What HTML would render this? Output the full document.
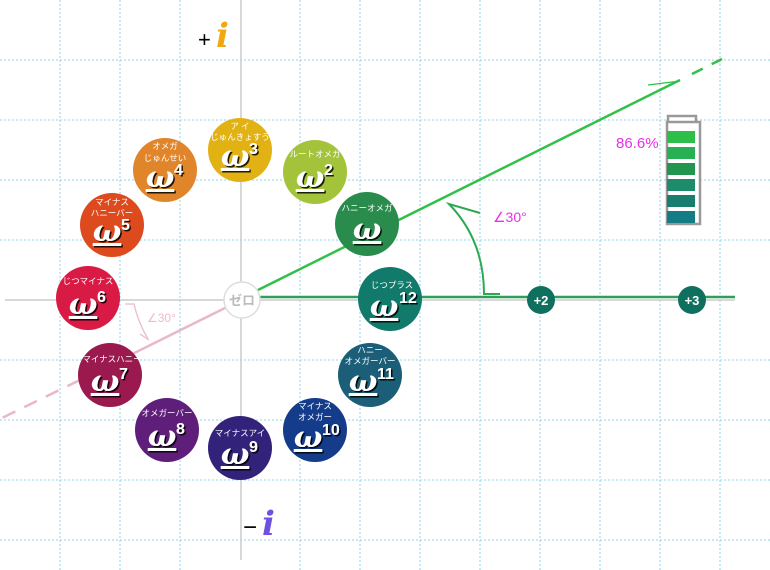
<!DOCTYPE html>
<html><head><meta charset="utf-8"><style>
html,body{margin:0;padding:0;background:#fff;}
svg{display:block;}
.lb{font-family:"Liberation Sans","Noto Sans CJK JP",sans-serif;font-size:8.5px;fill:#fff;text-anchor:middle;}
.om{font-family:"DejaVu Serif","Liberation Serif",serif;font-style:italic;font-weight:bold;font-size:30px;fill:#fff;text-anchor:middle;}
.sp{font-family:"Liberation Sans",sans-serif;font-weight:bold;font-size:16px;fill:#fff;}
</style></head><body>
<svg width="770" height="570" viewBox="0 0 770 570" xmlns="http://www.w3.org/2000/svg">
<defs>
<filter id="sh" x="-20%" y="-20%" width="150%" height="150%"><feDropShadow dx="1.5" dy="1.5" stdDeviation="0" flood-color="#000" flood-opacity="0.85"/></filter>
</defs>
<g stroke="#8fd3e8" stroke-width="1" stroke-dasharray="2,2">
<line x1="60" y1="0" x2="60" y2="570"/><line x1="120" y1="0" x2="120" y2="570"/><line x1="180" y1="0" x2="180" y2="570"/><line x1="300" y1="0" x2="300" y2="570"/><line x1="360" y1="0" x2="360" y2="570"/><line x1="420" y1="0" x2="420" y2="570"/><line x1="480" y1="0" x2="480" y2="570"/><line x1="540" y1="0" x2="540" y2="570"/><line x1="600" y1="0" x2="600" y2="570"/><line x1="660" y1="0" x2="660" y2="570"/><line x1="720" y1="0" x2="720" y2="570"/>
<line x1="0" y1="60" x2="770" y2="60"/><line x1="0" y1="120" x2="770" y2="120"/><line x1="0" y1="180" x2="770" y2="180"/><line x1="0" y1="240" x2="770" y2="240"/><line x1="0" y1="360" x2="770" y2="360"/><line x1="0" y1="420" x2="770" y2="420"/><line x1="0" y1="480" x2="770" y2="480"/><line x1="0" y1="540" x2="770" y2="540"/>
</g>
<line x1="241" y1="0" x2="241" y2="560" stroke="#ccc" stroke-width="1.5"/>
<line x1="5" y1="300" x2="735" y2="300" stroke="#ccc" stroke-width="1.5"/>
<line x1="225" y1="308" x2="80" y2="380" stroke="#e8b8c8" stroke-width="2.5"/>
<line x1="80" y1="380" x2="0" y2="419" stroke="#e8b8c8" stroke-width="2.5" stroke-dasharray="14,10"/>
<path d="M125 304 L134 304 Q138 322 148 339" fill="none" stroke="#ebbcc8" stroke-width="1.3"/>
<path d="M140 334 L149 340" stroke="#ebbcc8" stroke-width="1.3"/>
<text x="147" y="322" font-family="Liberation Sans,sans-serif" font-size="12" fill="#f0b8cc">∠30°</text>
<line x1="258" y1="297" x2="735" y2="297" stroke="#2e9e5a" stroke-width="2.5"/>
<line x1="258" y1="290" x2="680" y2="80" stroke="#33c04a" stroke-width="2.5"/>
<line x1="692" y1="74" x2="722" y2="59" stroke="#33c04a" stroke-width="2.5" stroke-dasharray="12,10"/>
<path d="M680 81 L648 85" stroke="#33c04a" stroke-width="1.3"/>
<path d="M500 294 L484 294 Q484 240 449 204 L480 213" fill="none" stroke="#2ea854" stroke-width="2"/>
<text x="493" y="222" font-family="Liberation Sans,sans-serif" font-size="14" fill="#e830e8">∠30°</text>
<rect x="668" y="116" width="28" height="7" fill="#fff" stroke="#999" stroke-width="2.5"/>
<rect x="667" y="122" width="33" height="102" fill="#fff" stroke="#999" stroke-width="2.5"/>
<rect x="667" y="131" width="28" height="12" fill="#2dbf4a"/>
<rect x="667" y="147" width="28" height="12" fill="#28b055"/>
<rect x="667" y="163" width="28" height="12" fill="#22954f"/>
<rect x="667" y="179" width="28" height="12" fill="#1e8c6a"/>
<rect x="667" y="195" width="28" height="12" fill="#1a7e6e"/>
<rect x="667" y="211" width="28" height="12" fill="#147c84"/>
<text x="616" y="148" font-family="Liberation Sans,sans-serif" font-size="15" fill="#e830e8">86.6%</text>
<circle cx="541" cy="300" r="14" fill="#10705f"/><text x="541" y="305" font-family="Liberation Sans,sans-serif" font-weight="bold" font-size="13" fill="#fff" text-anchor="middle">+2</text>
<circle cx="692" cy="300" r="14" fill="#10705f"/><text x="692" y="305" font-family="Liberation Sans,sans-serif" font-weight="bold" font-size="13" fill="#fff" text-anchor="middle">+3</text>
<circle cx="242" cy="300" r="18" fill="#fff" stroke="#ddd" stroke-width="1.5"/>
<text x="242" y="305" font-family="Liberation Sans,Noto Sans CJK JP,sans-serif" font-weight="bold" font-size="13" fill="#bbb" text-anchor="middle">ゼロ</text>
<text x="198" y="47" font-family="Liberation Sans,sans-serif" font-size="22" fill="#000">+</text>
<text x="216" y="47" font-family="DejaVu Serif,serif" font-style="italic" font-weight="bold" font-size="34" fill="#f0a810">i</text>
<text x="243" y="535" font-family="Liberation Sans,sans-serif" font-size="24" fill="#000">−</text>
<text x="262" y="535" font-family="DejaVu Serif,serif" font-style="italic" font-weight="bold" font-size="34" fill="#7050e0">i</text>
<g>
<circle cx="390" cy="299" r="32" fill="#127a6a"/><text class="lb" x="392" y="288">じつプラス</text><text class="om" x="384" y="316" filter="url(#sh)" text-decoration="underline">ω</text><text class="sp" x="399" y="303" filter="url(#sh)">12</text>
<circle cx="367" cy="224" r="32" fill="#2a8c4c"/><text class="lb" x="367" y="211">ハニーオメガ</text><text class="om" x="367" y="239" filter="url(#sh)" text-decoration="underline">ω</text>
<circle cx="315" cy="172" r="32" fill="#a3c43a"/><text class="lb" x="315" y="157">ルートオメガ</text><text class="om" x="310" y="187" filter="url(#sh)" text-decoration="underline">ω</text><text class="sp" x="324" y="175" filter="url(#sh)">2</text>
<circle cx="240" cy="150" r="32" fill="#e2b214"/><text class="lb" x="240" y="129">ア イ</text><text class="lb" x="240" y="140">じゅんきょすう</text><text class="om" x="235" y="166" filter="url(#sh)" text-decoration="underline">ω</text><text class="sp" x="249" y="154" filter="url(#sh)">3</text>
<circle cx="165" cy="170" r="32" fill="#e0852a"/><text class="lb" x="165" y="149">オメガ</text><text class="lb" x="165" y="161">じゅんせい</text><text class="om" x="160" y="187" filter="url(#sh)" text-decoration="underline">ω</text><text class="sp" x="174" y="175" filter="url(#sh)">4</text>
<circle cx="112" cy="225" r="32" fill="#dd4a1e"/><text class="lb" x="112" y="205">マイナス</text><text class="lb" x="112" y="216">ハニーバー</text><text class="om" x="107" y="241" filter="url(#sh)" text-decoration="underline">ω</text><text class="sp" x="121" y="230" filter="url(#sh)">5</text>
<circle cx="88" cy="298" r="32" fill="#d91a45"/><text class="lb" x="88" y="284">じつマイナス</text><text class="om" x="83" y="314" filter="url(#sh)" text-decoration="underline">ω</text><text class="sp" x="97" y="302" filter="url(#sh)">6</text>
<circle cx="110" cy="375" r="32" fill="#9a1a4f"/><text class="lb" x="112" y="362">マイナスハニー</text><text class="om" x="105" y="391" filter="url(#sh)" text-decoration="underline">ω</text><text class="sp" x="119" y="379" filter="url(#sh)">7</text>
<circle cx="167" cy="430" r="32" fill="#5e1e7a"/><text class="lb" x="167" y="416">オメガーバー</text><text class="om" x="162" y="446" filter="url(#sh)" text-decoration="underline">ω</text><text class="sp" x="176" y="434" filter="url(#sh)">8</text>
<circle cx="240" cy="448" r="32" fill="#33227a"/><text class="lb" x="240" y="436">マイナスアイ</text><text class="om" x="235" y="464" filter="url(#sh)" text-decoration="underline">ω</text><text class="sp" x="249" y="452" filter="url(#sh)">9</text>
<circle cx="315" cy="430" r="32" fill="#143c8a"/><text class="lb" x="315" y="409">マイナス</text><text class="lb" x="315" y="420">オメガー</text><text class="om" x="308" y="447" filter="url(#sh)" text-decoration="underline">ω</text><text class="sp" x="322" y="435" filter="url(#sh)">10</text>
<circle cx="370" cy="375" r="32" fill="#1a5e78"/><text class="lb" x="370" y="353">ハニー</text><text class="lb" x="370" y="364">オメガーバー</text><text class="om" x="363" y="391" filter="url(#sh)" text-decoration="underline">ω</text><text class="sp" x="377" y="379" filter="url(#sh)">11</text>
</g>
</svg>
</body></html>
